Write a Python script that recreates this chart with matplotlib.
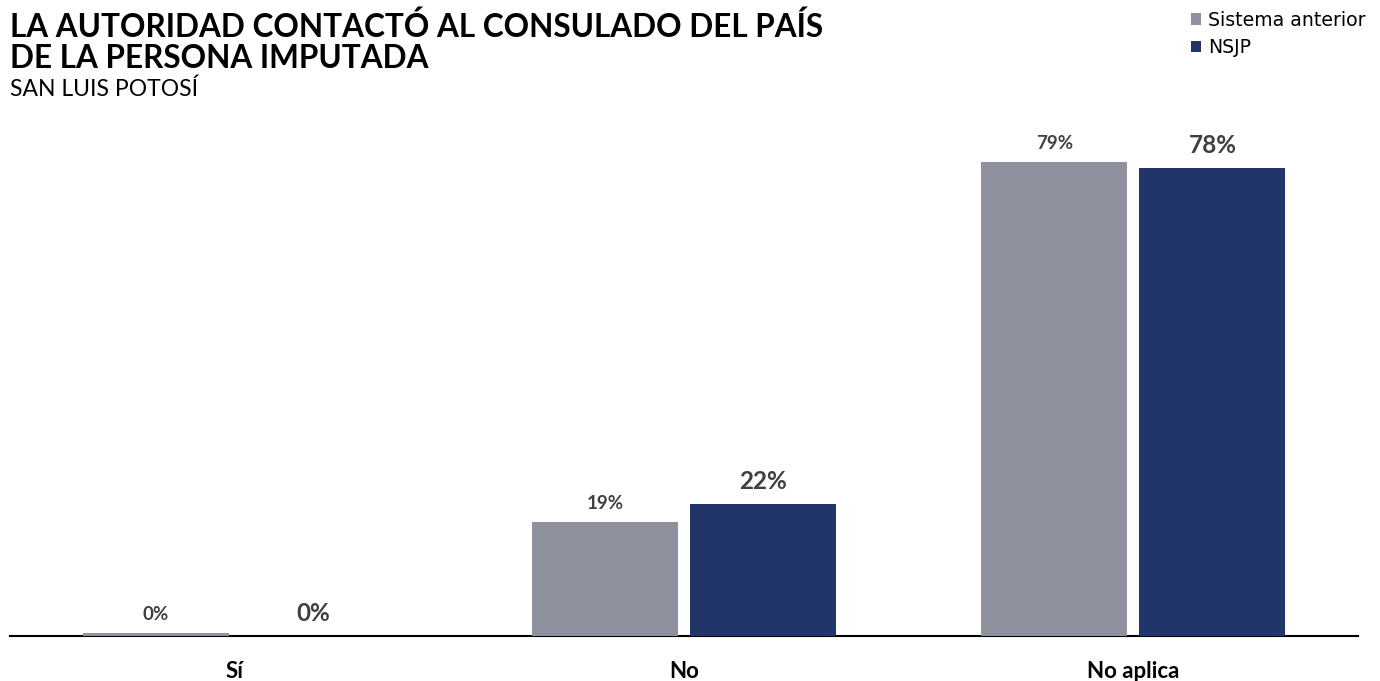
import numpy as np
import matplotlib
matplotlib.use("Agg")
from matplotlib import pyplot as plt

categories = ["Sí", "No", "No aplica"]
anterior = [0.5, 19, 79]
nsjp = [0, 22, 78]
anterior_labels = ["0%", "19%", "79%"]
nsjp_labels = ["0%", "22%", "78%"]

gray = "#8f929e"
navy = "#213569"
txt = "#404040"

plt.rcParams["font.family"] = ["Lato", "DejaVu Sans"]

fig = plt.figure(figsize=(13.8, 6.81), dpi=100)
ax = fig.add_axes([10 / 1380, 45 / 681, 1348 / 1380, 528 / 681])

x = np.arange(len(categories))
w = 0.325
off = 0.176
b1 = ax.bar(x - off, anterior, w, color=gray, label="Sistema anterior", zorder=3)
b2 = ax.bar(x + off, nsjp, w, color=navy, label="NSJP", zorder=3)

for rect, lab in zip(b1, anterior_labels):
    ax.annotate(lab, (rect.get_x() + rect.get_width() / 2, rect.get_height()),
                xytext=(0, 7), textcoords="offset points", ha="center", va="bottom",
                fontsize=13.5, fontweight="bold", color=txt)
for rect, lab in zip(b2, nsjp_labels):
    ax.annotate(lab, (rect.get_x() + rect.get_width() / 2, rect.get_height()),
                xytext=(0, 8), textcoords="offset points", ha="center", va="bottom",
                fontsize=17.5, fontweight="bold", color=txt)

ax.set_xlim(-0.5, 2.5)
ax.set_ylim(0, 88)
ax.set_xticks(x)
ax.set_xticklabels(categories, fontsize=16, fontweight="bold", color="black")
ax.tick_params(axis="x", length=0, pad=18)
ax.set_yticks([])
for s in ["top", "right", "left"]:
    ax.spines[s].set_visible(False)
ax.spines["bottom"].set_linewidth(1.5)
ax.spines["bottom"].set_color("black")

fig.text(10 / 1380, 1 - 37 / 681, "LA AUTORIDAD CONTACTÓ AL CONSULADO DEL PAÍS",
         fontsize=22.7, fontweight="bold", color="black", va="baseline")
fig.text(10 / 1380, 1 - 68 / 681, "DE LA PERSONA IMPUTADA",
         fontsize=22.7, fontweight="bold", color="black", va="baseline")
fig.text(10 / 1380, 1 - 96 / 681, "SAN LUIS POTOSÍ",
         fontsize=16.5, color="black", va="baseline")

leg = fig.legend(handles=[b1, b2], loc="upper right", bbox_to_anchor=(1373 / 1380, 1 - 3 / 681),
                 frameon=False, handlelength=0.55, handleheight=0.55,
                 handletextpad=0.35, labelspacing=0.45, borderaxespad=0,
                 prop={"family": "DejaVu Sans", "size": 13.6})

fig.savefig("out.png", dpi=100)
